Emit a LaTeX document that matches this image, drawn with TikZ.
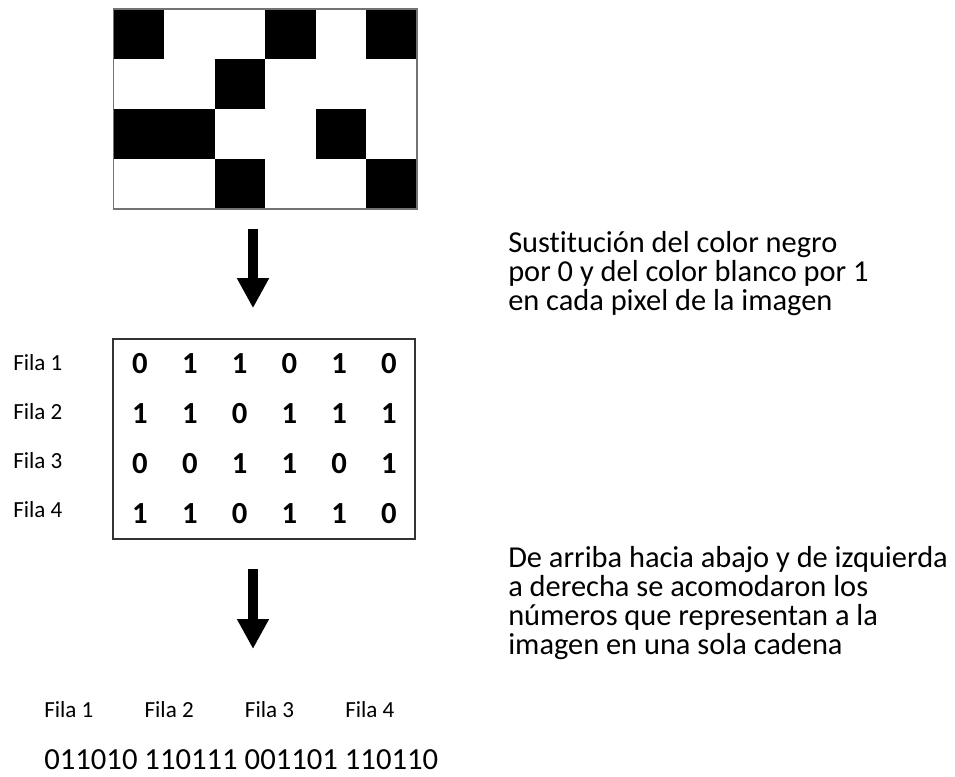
\documentclass[tikz,border=0pt]{standalone}
\usepackage{fontspec}
\setmainfont{Carlito}[Ligatures=NoCommon]
\usetikzlibrary{positioning,arrows.meta}

\begin{document}
\begin{tikzpicture}[
   x=0.75pt, y=-0.75pt,
   node distance = 38pt and 38pt,
   frame/.style = {draw, minimum width=227.6pt, minimum height=150pt, inner sep=0pt},
   bit/.style = {font=\bfseries\fontsize{23}{26}\selectfont, inner sep=0pt},
   fila/.style = {font=\fontsize{17.3}{20}\selectfont, inner sep=0pt},
   note/.style = {font=\fontsize{22.8}{21.75}\selectfont, align=left, inner sep=0pt, anchor=base west},
   arr/.style = {line width=7.5pt, -{Triangle[length=22.5pt, width=22.5pt]}}
]
\useasboundingbox (0,0) rectangle (955,776);

\foreach \row [count=\j from 0] in {{0,1,1,0,1,0},{1,1,0,1,1,1},{0,0,1,1,0,1},{1,1,0,1,1,0}}{
  \foreach \b [count=\i from 0] in \row {
    \ifnum\b=0 \fill (113.5+50.58*\i, 9+50*\j) rectangle ++(50.58,50); \fi
    \node[bit] (b\j\i) at (140+49.8*\i, 364+50*\j) {\b};
  }
  \pgfmathtruncatemacro\k{\j+1}
  \node[fila, anchor=west] (r\k) at (13, 363+49*\j) {Fila \k};
}
\node[frame, draw=black!55, line width=1pt] (img) at (265.25,109) {};
\node[frame, draw=black!80, line width=1.2pt, minimum width=226.5pt] (mat) at (264,439) {};

\coordinate (ax) at (253,0);
\coordinate (a2) at (253,649);
\draw[arr, shorten <=14.25pt, shorten >=22.5pt] (ax |- img.south) -- (ax |- mat.north);
\draw[arr, shorten <=21.75pt] (ax |- mat.south) -- (a2);

\node[note] (n1) at (508,310) {Sustitución del color negro\\por 0 y del color blanco por 1\\en cada pixel de la imagen};
\node[note] (n2) at (508,654) {De arriba hacia abajo y de izquierda\\a derecha se acomodaron los\\números que representan a la\\imagen en una sola cadena};

\node[fila, anchor=west] (f1) at (44,710) {Fila 1};
\node[fila, right=of f1] (f2) {Fila 2};
\node[fila, right=of f2] (f3) {Fila 3};
\node[fila, right=of f3] (f4) {Fila 4};
\node[font=\fontsize{23}{26}\selectfont, inner sep=0pt, anchor=west] (cad) at (44,760) {011010 110111 001101 110110};
\end{tikzpicture}
\end{document}
